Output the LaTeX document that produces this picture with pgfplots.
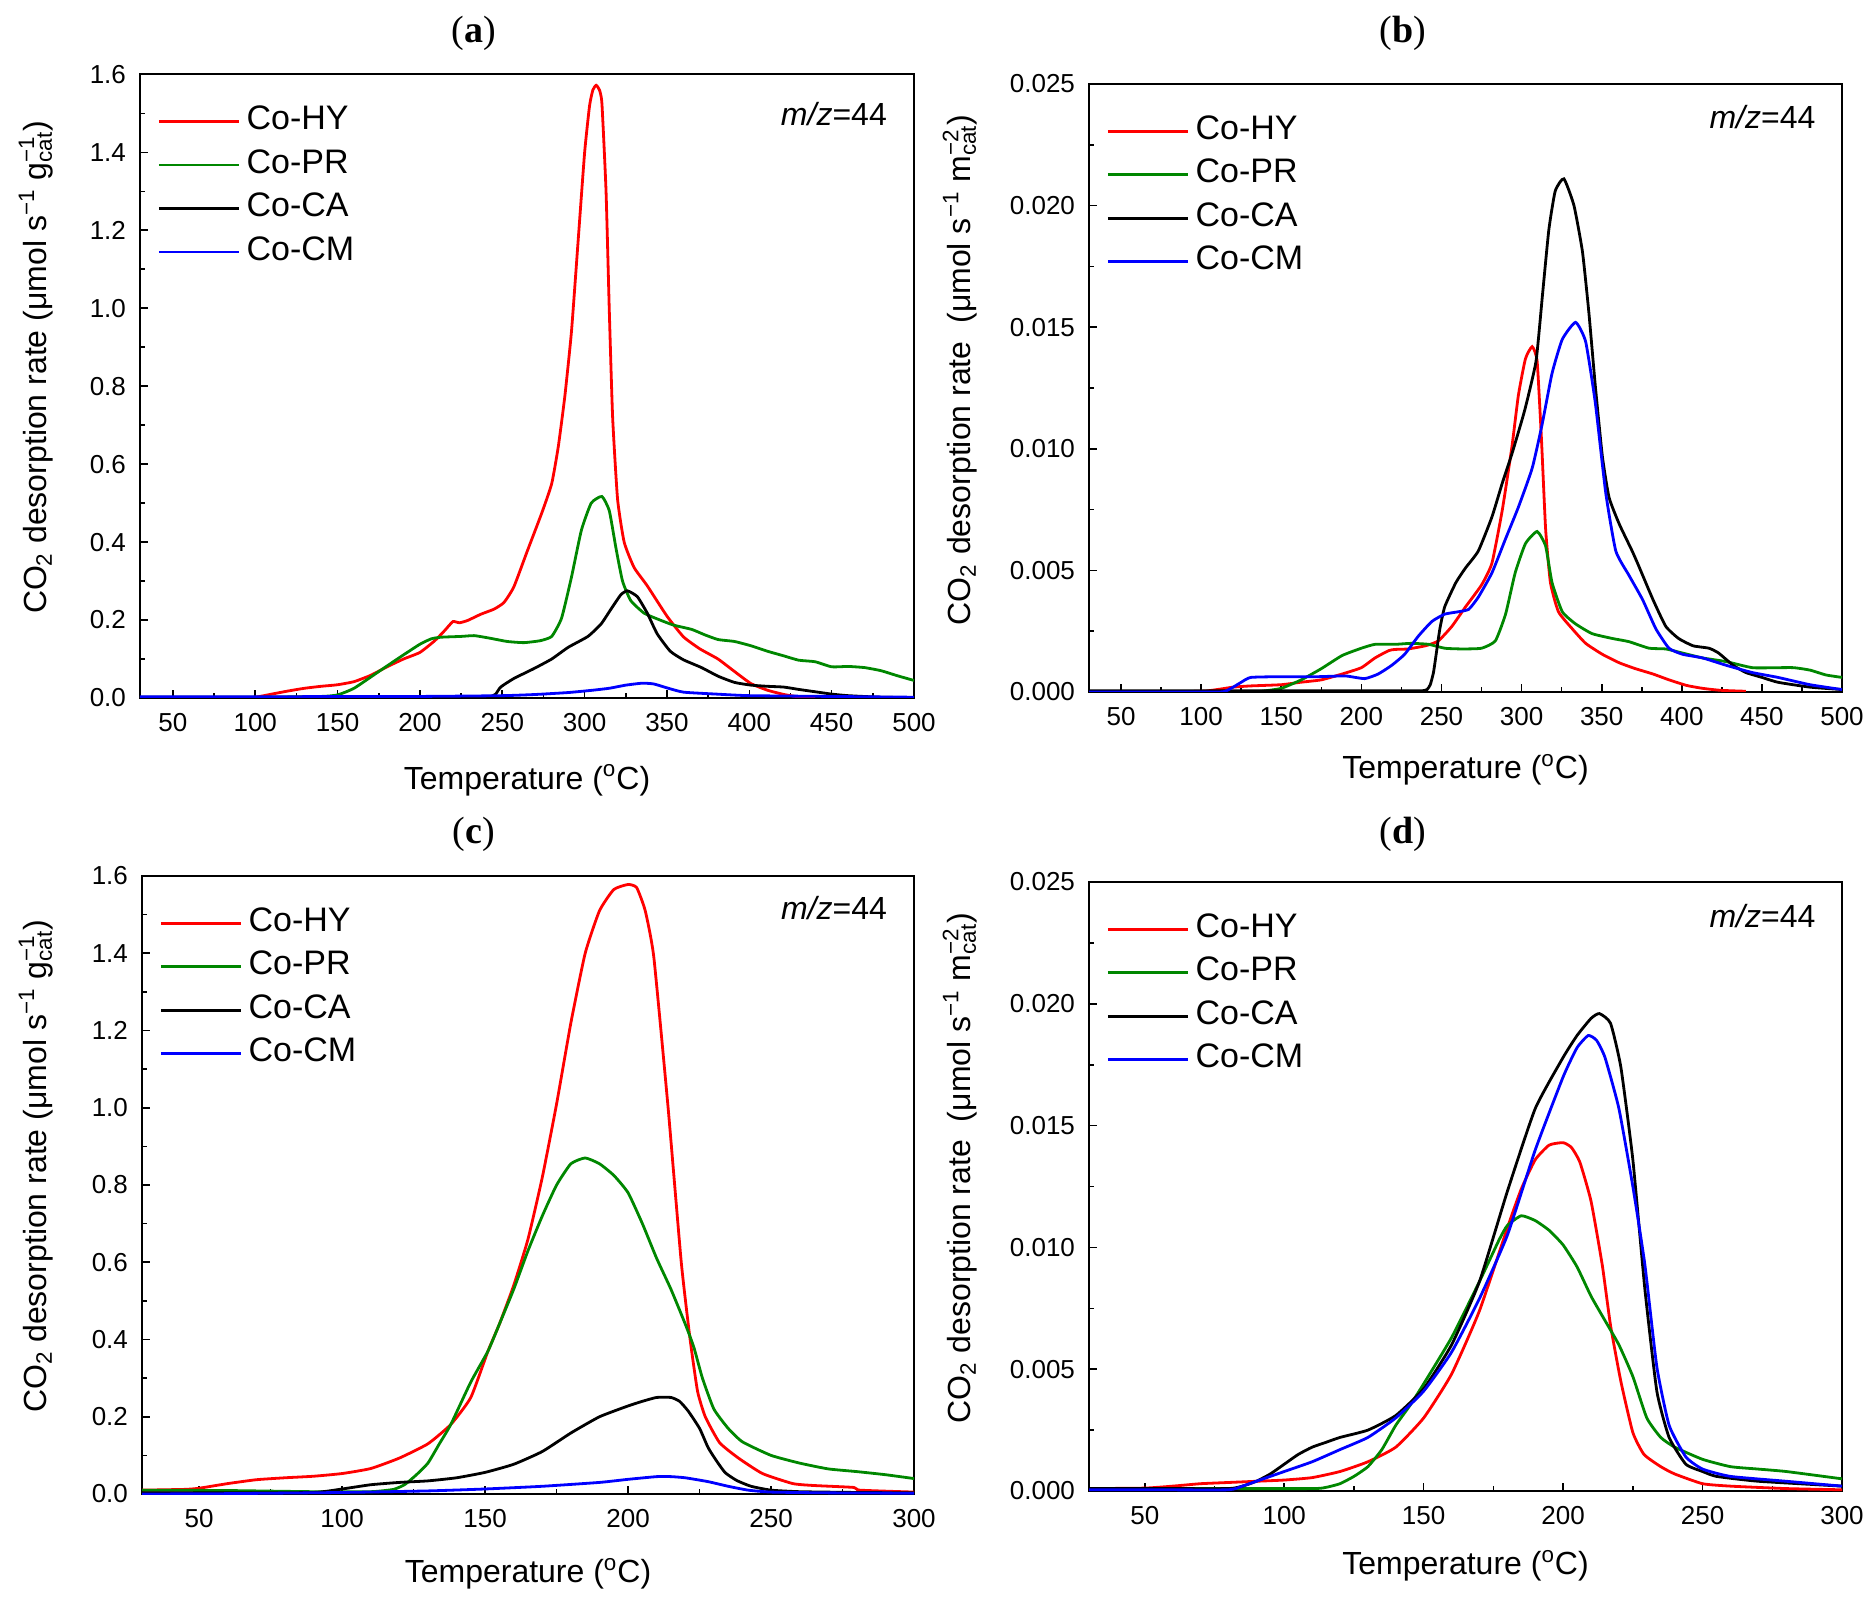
\documentclass[border=0pt]{standalone}
\usepackage{fontspec}
\setmainfont{Liberation Sans}
\newfontfamily\titlefont{Liberation Serif}
\usepackage{pgfplots}
\pgfplotsset{compat=1.18}
\definecolor{ogreen}{RGB}{0,135,0}
\newcommand{\labfont}{\fontsize{16}{19}\selectfont}
\pgfplotsset{
  panel/.style={
    scale only axis,
    axis line style={line width=1pt},
    tick align=inside,
    xtick pos=bottom, ytick pos=left,
    major tick length=4pt, minor tick length=2.5pt,
    every tick/.style={black, line width=0.8pt},
    minor x tick num=1, minor y tick num=1,
    tick label style={font=\fontsize{13}{15}\selectfont},
    xticklabel style={yshift=-4pt},
    yticklabel style={xshift=-3.5pt},
    /pgf/number format/assume math mode=true,
    xlabel={Temperature (\textsuperscript{o}C)},
    scaled y ticks=false,
    ymin=0,
    legend style={at={(axis description cs:0,1)}, anchor=north west, draw=none, fill=none,
      inner sep=0pt, xshift=8.5pt, yshift=-15.4pt, row sep=5.75pt,
      font=\fontsize{17}{20}\selectfont,
      nodes={inner sep=0pt, text height=12pt, text depth=4pt},
      /tikz/every odd column/.append style={column sep=3.2pt}},
    legend cell align=left,
    legend image code/.code={\draw[#1, line width=1.4pt] (0pt,0pt) -- (40pt,0pt);},
    every axis plot/.append style={line width=1.4pt, smooth, tension=0.3},
  },
  ga/.style={ymax=1.6, ytick={0,0.2,0.4,0.6,0.8,1.0,1.2,1.4,1.6},
    yticklabel style={/pgf/number format/fixed, /pgf/number format/precision=1, /pgf/number format/zerofill},
    ylabel={CO\textsubscript{2} desorption rate (μmol s\textsuperscript{−1} g\makebox[0pt][l]{\textsuperscript{−1}}\textsubscript{cat})}},
  gb/.style={ymax=0.025, ytick={0,0.005,0.010,0.015,0.020,0.025},
    yticklabel style={/pgf/number format/fixed, /pgf/number format/precision=3, /pgf/number format/zerofill},
    ylabel={CO\textsubscript{2} desorption rate\ \ (μmol s\textsuperscript{−1} m\makebox[0pt][l]{\textsuperscript{−2}}\textsubscript{cat})}},
}
\newcommand{\mz}[1]{\node[anchor=base east, font=\fontsize{16}{19}\selectfont] at (rel axis cs:0.974,#1) {\textit{m/z}=44};}
\begin{document}
\begin{tikzpicture}
\path[use as bounding box] (0,0) rectangle (936pt,801pt);
% ---------------- (a)
\begin{axis}[panel, ga, at={(70pt,452pt)}, anchor=south west, width=387pt, height=311.8pt,
  xmin=30, xmax=500, xtick={50,100,...,500},
  every axis y label/.style={at={(axis description cs:-0.1344,0.53)}, rotate=90, anchor=center, font=\labfont},
  every axis x label/.style={at={(axis description cs:0.5,-0.1323)}, anchor=center, font=\labfont}]
\addplot[red] coordinates {(30,0) (60,0) (90,0) (100,0.002) (110,0.01) (120,0.018) (130,0.025) (140,0.03) (150,0.034) (160,0.042) (170,0.058) (180,0.08) (190,0.1) (200,0.117) (209,0.147) (215,0.173) (220,0.196) (224,0.193) (229,0.199) (237,0.215) (245,0.228) (251,0.245) (257,0.285) (265,0.375) (274,0.475) (280,0.55) (284,0.645) (288,0.775) (292,0.94) (296,1.17) (300,1.40) (303,1.52) (305,1.56) (307,1.572) (309,1.56) (310.5,1.525) (313,1.30) (315,0.99) (317,0.72) (320,0.51) (324,0.40) (330,0.335) (338,0.288) (350,0.21) (360,0.157) (370,0.126) (381,0.1) (391,0.068) (401,0.037) (411,0.02) (421,0.009) (430,0.003) (440,0.0)};
\addplot[ogreen] coordinates {(30,0.002) (60,0.002) (100,0.002) (140,0.004) (150,0.008) (160,0.025) (174,0.065) (188,0.105) (200,0.138) (207,0.152) (213,0.156) (225,0.158) (233,0.16) (243,0.153) (253,0.145) (263,0.142) (273,0.147) (280,0.158) (286,0.205) (292,0.31) (298,0.43) (304,0.50) (310.5,0.517) (315,0.48) (319,0.385) (323,0.30) (328,0.25) (336,0.218) (344,0.203) (354,0.187) (365,0.176) (373,0.162) (381,0.15) (391,0.145) (401,0.134) (411,0.12) (421,0.108) (430,0.097) (440,0.093) (450,0.08) (460,0.081) (470,0.078) (480,0.07) (490,0.057) (500,0.045)};
\addplot[black] coordinates {(30,0.002) (100,0.002) (170,0.002) (220,0.003) (238,0.003) (243,0.004) (246,0.01) (249,0.028) (257,0.05) (269,0.075) (280,0.1) (290,0.13) (302,0.158) (310,0.19) (316,0.228) (322,0.265) (326,0.275) (332,0.26) (338,0.218) (344,0.165) (352,0.12) (360,0.098) (371,0.078) (381,0.056) (391,0.04) (401,0.033) (411,0.03) (421,0.028) (430,0.022) (440,0.016) (450,0.01) (460,0.006) (480,0.002) (500,0.001)};
\addplot[blue] coordinates {(30,0.003) (100,0.003) (160,0.004) (200,0.004) (250,0.006) (270,0.009) (290,0.014) (305,0.02) (315,0.025) (325,0.033) (335,0.038) (342,0.036) (350,0.026) (360,0.015) (380,0.01) (400,0.006) (450,0.004) (500,0.002)};
\legend{Co-HY,Co-PR,Co-CA,Co-CM}
\mz{0.918}
\end{axis}
% ---------------- (b)
\begin{axis}[panel, gb, at={(544.5pt,455pt)}, anchor=south west, width=376.5pt, height=304pt,
  xmin=30, xmax=500, xtick={50,100,...,500},
  every axis y label/.style={at={(axis description cs:-0.1713,0.53)}, rotate=90, anchor=center, font=\labfont},
  every axis x label/.style={at={(axis description cs:0.5,-0.128)}, anchor=center, font=\labfont}]
\addplot[red] coordinates {(30,0) (60,0) (100,0.00003) (110,0.0001) (120,0.0002) (131,0.00025) (150,0.0003) (162,0.0004) (175,0.0005) (188,0.00074) (200,0.001) (208.5,0.0014) (217,0.0017) (221,0.00175) (229,0.00177) (240,0.0019) (248,0.0021) (256.5,0.0027) (265,0.0035) (275,0.0044) (281.5,0.0053) (288,0.0075) (294,0.0101) (298,0.0122) (302.4,0.0137) (306.6,0.0142) (309.7,0.0136) (312.4,0.0104) (315,0.0067) (318,0.0045) (323,0.0033) (331.6,0.0026) (340,0.002) (350.4,0.00155) (361,0.0012) (371,0.00096) (382,0.00074) (392,0.0005) (403,0.00027) (413,0.00015) (424,0.00007) (440,0.00003)};
\addplot[ogreen] coordinates {(30,0) (80,0) (130,0) (140,0.00005) (150,0.00015) (162.5,0.0005) (175,0.00096) (188,0.0015) (200,0.0018) (208.5,0.00196) (221,0.00196) (231,0.002) (242,0.00196) (252,0.0018) (263,0.00177) (275,0.0018) (283.6,0.0021) (290,0.0032) (296,0.0049) (302.4,0.0061) (309.7,0.0066) (315,0.006) (319,0.0045) (325.4,0.0033) (333.7,0.0028) (344,0.0024) (356.7,0.0022) (367,0.00207) (379.6,0.0018) (390,0.00177) (400.5,0.0016) (413,0.0014) (427.6,0.00125) (444,0.001) (460,0.001) (470,0.001) (480,0.0009) (490,0.0007) (500,0.0006)};
\addplot[black] coordinates {(30,0.00005) (100,0.00005) (150,0.00005) (200,0.00005) (230,0.00005) (238,0.00005) (241,0.0001) (243,0.0003) (245,0.0008) (247,0.0017) (249,0.0026) (252,0.0035) (259,0.0045) (265,0.0051) (273,0.0058) (281.5,0.0072) (288,0.0086) (294,0.0098) (302,0.0116) (309,0.0136) (313,0.0163) (317,0.019) (321,0.0206) (326.4,0.0211) (332.7,0.02) (338,0.0181) (342,0.0156) (346,0.0126) (350.4,0.0097) (354.6,0.008) (361,0.0069) (369,0.0058) (373,0.0052) (382,0.0038) (390,0.0027) (398,0.0022) (407,0.0019) (417,0.0018) (423,0.0016) (432,0.0011) (440,0.0008) (450,0.0006) (460,0.0004) (480,0.0002) (500,0.0001)};
\addplot[blue] coordinates {(30,0) (70,0) (110,0) (115,0.00003) (120,0.0002) (125,0.0004) (131,0.0006) (150,0.00063) (173,0.00063) (190,0.00066) (202,0.00055) (210.5,0.00074) (219,0.0011) (227,0.00155) (235.6,0.0023) (244,0.0029) (252,0.0032) (260.6,0.0033) (267,0.0034) (273,0.0039) (281.5,0.0049) (290,0.0063) (298,0.0076) (306.6,0.0092) (312.8,0.011) (319,0.0131) (325.4,0.0145) (333.7,0.0152) (340,0.0144) (346,0.0119) (352.5,0.0082) (358.8,0.0058) (367,0.0048) (375.5,0.0038) (383.8,0.0026) (392,0.0018) (400.5,0.00155) (413,0.0014) (427.6,0.0011) (444,0.0008) (460,0.0006) (480,0.0003) (500,0.0001)};
\legend{Co-HY,Co-PR,Co-CA,Co-CM}
\mz{0.926}
\end{axis}
% ---------------- (c)
\begin{axis}[panel, ga, at={(71pt,54pt)}, anchor=south west, width=386pt, height=309pt,
  xmin=30, xmax=300, xtick={50,100,...,300},
  every axis y label/.style={at={(axis description cs:-0.1373,0.53)}, rotate=90, anchor=center, font=\labfont},
  every axis x label/.style={at={(axis description cs:0.5,-0.129)}, anchor=center, font=\labfont}]
\addplot[red] coordinates {(30,0.01) (45,0.012) (50,0.015) (60,0.027) (70,0.037) (80,0.042) (90,0.046) (100,0.053) (110,0.066) (120,0.093) (130,0.13) (138,0.18) (145,0.25) (151,0.37) (155,0.44) (160,0.54) (165,0.66) (170,0.82) (175,1.01) (180,1.22) (185,1.40) (190,1.51) (195,1.565) (200,1.578) (203,1.57) (206,1.51) (209,1.39) (214,1.0) (218.6,0.6) (221.7,0.4) (224.3,0.266) (227,0.2) (232,0.133) (238.6,0.093) (247,0.053) (257.6,0.027) (265,0.022) (279,0.017) (281,0.01) (300,0.005)};
\addplot[ogreen] coordinates {(30,0.01) (60,0.009) (90,0.006) (110,0.006) (118,0.012) (122,0.025) (126,0.05) (130,0.08) (134,0.13) (138,0.18) (145,0.29) (151,0.37) (155,0.44) (160,0.53) (165,0.63) (170,0.72) (175,0.8) (180,0.855) (185,0.87) (190,0.855) (195,0.825) (200,0.78) (205,0.7) (210,0.61) (215,0.53) (220,0.44) (223,0.38) (226,0.3) (230,0.22) (235,0.17) (240,0.135) (250,0.1) (260,0.08) (270,0.065) (280,0.058) (290,0.05) (300,0.04)};
\addplot[black] coordinates {(30,0.003) (60,0.003) (90,0.004) (100,0.013) (110,0.024) (120,0.03) (130,0.034) (140,0.042) (150,0.056) (160,0.077) (170,0.11) (180,0.158) (190,0.2) (200,0.228) (205,0.24) (210,0.25) (215,0.25) (218,0.24) (221,0.215) (225,0.17) (228,0.12) (231,0.085) (234,0.055) (238,0.035) (243,0.02) (250,0.01) (260,0.006) (280,0.004) (300,0.003)};
\addplot[blue] coordinates {(30,0.0) (60,0.001) (100,0.004) (130,0.008) (150,0.013) (170,0.02) (190,0.03) (200,0.038) (210,0.045) (215,0.045) (220,0.042) (228,0.032) (235,0.02) (242,0.01) (250,0.005) (270,0.003) (300,0.002)};
\legend{Co-HY,Co-PR,Co-CA,Co-CM}
\mz{0.93}
\end{axis}
% ---------------- (d)
\begin{axis}[panel, gb, at={(544.5pt,55.5pt)}, anchor=south west, width=376.5pt, height=304.5pt,
  xmin=30, xmax=300, xtick={50,100,...,300},
  every axis y label/.style={at={(axis description cs:-0.1713,0.53)}, rotate=90, anchor=center, font=\labfont},
  every axis x label/.style={at={(axis description cs:0.5,-0.123)}, anchor=center, font=\labfont}]
\addplot[red] coordinates {(30,0.0001) (50,0.00012) (60,0.0002) (70,0.0003) (80,0.00035) (90,0.0004) (100,0.00045) (110,0.00055) (120,0.0008) (130,0.0012) (140,0.0018) (150,0.003) (160,0.0048) (170,0.0074) (180,0.0108) (185,0.0124) (190,0.0136) (195,0.0142) (200,0.0143) (203,0.0141) (206,0.0135) (210,0.0119) (214,0.0093) (217,0.0068) (220.7,0.0045) (225,0.0024) (229,0.0015) (235,0.001) (240,0.0007) (250,0.0003) (260,0.0002) (280,0.0001) (300,0.00005)};
\addplot[ogreen] coordinates {(30,0.0001) (70,0.0001) (110,0.0001) (115,0.00015) (120,0.0003) (125,0.0006) (130,0.001) (135,0.0017) (140,0.0027) (145,0.0035) (150,0.0044) (160,0.0063) (170,0.0086) (177,0.0103) (180,0.0109) (185,0.0113) (190,0.0111) (195,0.0107) (200,0.0101) (205,0.0092) (210,0.008) (215,0.007) (220,0.006) (225,0.0047) (230,0.003) (235,0.0022) (240,0.0018) (250,0.0013) (260,0.001) (270,0.0009) (280,0.0008) (300,0.0005)};
\addplot[black] coordinates {(30,0.0001) (55,0.0001) (80,0.0001) (85,0.0002) (90,0.0004) (95,0.0007) (100,0.0011) (105,0.0015) (110,0.0018) (115,0.002) (120,0.0022) (130,0.0025) (140,0.0031) (150,0.0042) (160,0.006) (170,0.0086) (180,0.0123) (190,0.0157) (200,0.0178) (205,0.0187) (210,0.0194) (213,0.0196) (217,0.0192) (220.7,0.0174) (225,0.0136) (229.3,0.0083) (233.6,0.0041) (238,0.0022) (244,0.0011) (250,0.0008) (255,0.0006) (270,0.0004) (300,0.0002)};
\addplot[blue] coordinates {(30,0.00005) (55,0.00005) (80,0.00005) (85,0.0002) (90,0.0004) (100,0.0008) (110,0.0012) (120,0.0017) (130,0.0022) (140,0.003) (150,0.0041) (160,0.0057) (170,0.0079) (180,0.0105) (190,0.014) (200,0.017) (205,0.0182) (209,0.0187) (212,0.0185) (215,0.0178) (220,0.0157) (225,0.0125) (229.3,0.0093) (233.6,0.0051) (238,0.0027) (244,0.0014) (250,0.0009) (260,0.0006) (280,0.0004) (300,0.0002)};
\legend{Co-HY,Co-PR,Co-CA,Co-CM}
\mz{0.926}
\end{axis}
% titles
\node[font=\titlefont\fontsize{19}{22}\selectfont] at (237pt,784.5pt) {(\textbf{a})};
\node[font=\titlefont\fontsize{19}{22}\selectfont] at (701.5pt,784.5pt) {(\textbf{b})};
\node[font=\titlefont\fontsize{19}{22}\selectfont] at (237pt,384pt) {(\textbf{c})};
\node[font=\titlefont\fontsize{19}{22}\selectfont] at (701.5pt,384pt) {(\textbf{d})};
\end{tikzpicture}
\end{document}
